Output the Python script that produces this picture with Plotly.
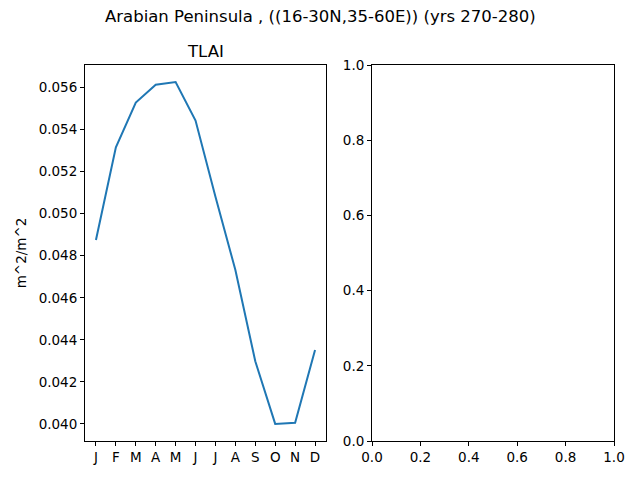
import plotly.graph_objects as go

months = ["J", "F", "M", "A", "M", "J", "J", "A", "S", "O", "N", "D"]
tlai = [0.04875, 0.05316, 0.05529, 0.05613, 0.05626, 0.05443,
        0.05081, 0.04732, 0.04298, 0.04000, 0.04005, 0.04352]
y_ticks = [0.040, 0.042, 0.044, 0.046, 0.048, 0.050, 0.052, 0.054, 0.056]
empty_ticks = [0.0, 0.2, 0.4, 0.6, 0.8, 1.0]

# page puts the plot 8px in from the corner, so size/positions are worked out for that
W, H, OFF = 632, 472, 8


def px_x(x):
    return (x - OFF) / W


def px_y(y):
    return 1 - (y - OFF) / H


font = dict(family="DejaVu Sans", size=13.5, color="black")
title_font = dict(family="DejaVu Sans", size=16.5, color="black")

fig = go.Figure()
fig.add_trace(go.Scatter(x=list(range(12)), y=tlai, mode="lines",
                         line=dict(color="#1f77b4", width=2),
                         xaxis="x", yaxis="y", showlegend=False))
# empty second panel, needs a trace so plotly draws the axes
fig.add_trace(go.Scatter(x=[None], y=[None], mode="lines",
                         xaxis="x2", yaxis="y2", showlegend=False, hoverinfo="skip"))

axis_style = dict(showline=True, linecolor="black", linewidth=1, mirror=True,
                  ticks="outside", ticklen=4, tickcolor="black", automargin=False,
                  showgrid=False, zeroline=False, tickfont=font)

span = max(tlai) - min(tlai)

fig.update_layout(
    template="none",
    width=W, height=H, autosize=False,
    margin=dict(l=0, r=0, t=0, b=0, pad=0),
    paper_bgcolor="white", plot_bgcolor="white",
    font=font,
    xaxis=dict(domain=[px_x(85), px_x(326)], range=[-0.55, 11.55],
               tickmode="array", tickvals=list(range(12)), ticktext=months,
               anchor="y", **axis_style),
    yaxis=dict(domain=[px_y(441), px_y(65)],
               range=[min(tlai) - 0.05 * span, max(tlai) + 0.05 * span],
               tickmode="array", tickvals=y_ticks,
               ticktext=[f"{v:.3f}" for v in y_ticks],
               title=dict(text="m^2/m^2", font=font, standoff=8),
               anchor="x", **axis_style),
    xaxis2=dict(domain=[px_x(372), px_x(614)], range=[0, 1],
                tickmode="array", tickvals=empty_ticks,
                ticktext=[f"{v:.1f}" for v in empty_ticks],
                anchor="y2", **axis_style),
    yaxis2=dict(domain=[px_y(441), px_y(65)], range=[0, 1],
                tickmode="array", tickvals=empty_ticks,
                ticktext=[f"{v:.1f}" for v in empty_ticks],
                anchor="x2", **axis_style),
    annotations=[
        dict(text="Arabian Peninsula , ((16-30N,35-60E)) (yrs 270-280)",
             x=px_x(320), y=px_y(17), xref="paper", yref="paper",
             showarrow=False, font=title_font,
             xanchor="center", yanchor="middle"),
        dict(text="TLAI", x=px_x(205.5), y=px_y(52), xref="paper", yref="paper",
             showarrow=False, font=title_font,
             xanchor="center", yanchor="middle"),
    ],
)

fig.write_html("out.html", config={"displayModeBar": False})
